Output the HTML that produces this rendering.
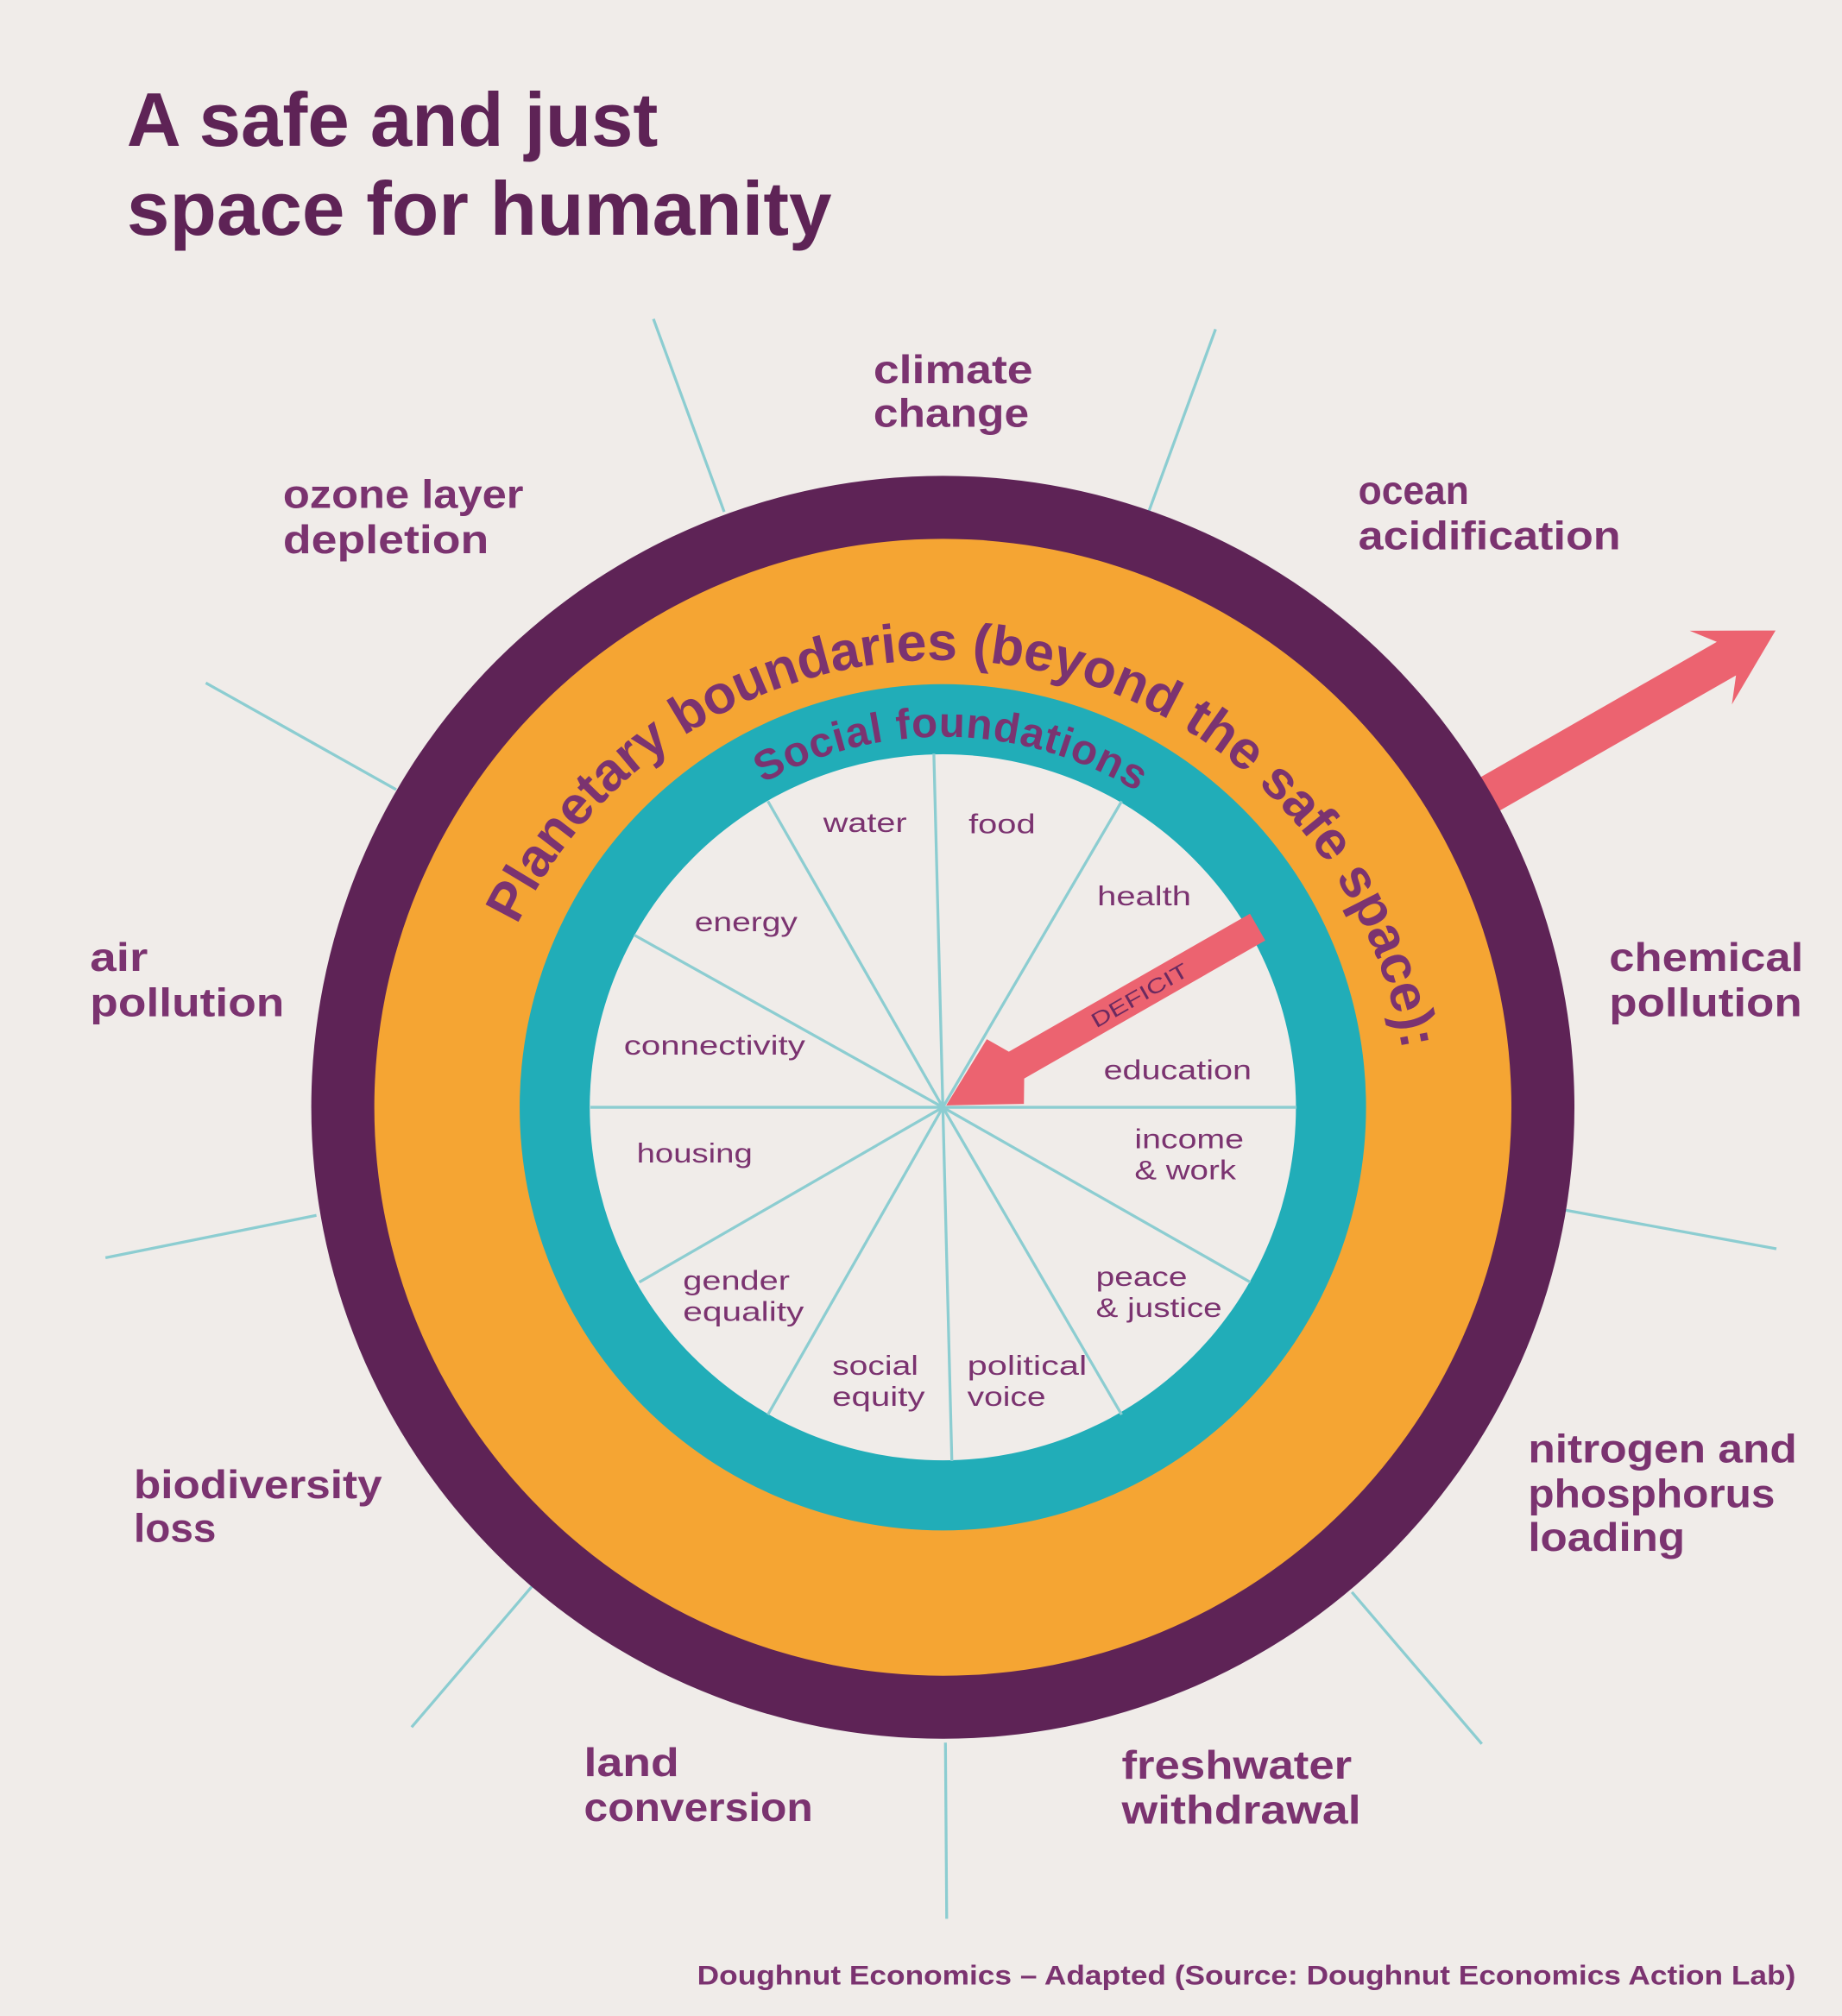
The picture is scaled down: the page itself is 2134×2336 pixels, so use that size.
<!DOCTYPE html>
<html><head><meta charset="utf-8"><style>
html,body{margin:0;padding:0;background:#f0ece9;}
svg{display:block;}
text{font-family:"Liberation Sans",sans-serif;}
</style></head><body>
<svg width="2134" height="2336" viewBox="0 0 2134 2336" xmlns="http://www.w3.org/2000/svg">
<rect width="2134" height="2336" fill="#f0ece9"/>
<g transform="scale(1.4902)">
<text x="98.6" y="113.4" font-size="59" font-weight="bold" fill="#5e2356" textLength="413" lengthAdjust="spacingAndGlyphs">A safe and just</text>
<text x="98.6" y="182.5" font-size="59" font-weight="bold" fill="#5e2356" textLength="548" lengthAdjust="spacingAndGlyphs">space for humanity</text>

<g stroke="#8ccdd1" stroke-width="2.2">
<line x1="508" y1="248" x2="563" y2="398"/>
<line x1="945" y1="256" x2="893" y2="398"/>
<line x1="160" y1="531" x2="308" y2="614"/>
<line x1="1217" y1="941" x2="1381" y2="971"/>
<line x1="82" y1="978" x2="246" y2="945"/>
<line x1="414" y1="1233" x2="320" y2="1343"/>
<line x1="1051" y1="1238" x2="1152" y2="1356"/>
<line x1="735" y1="1355" x2="736" y2="1492"/>
</g>

<g transform="translate(733,861) rotate(-29.8)">
<path d="M0,-15 L702,-15 L688,-33 L746,0 L688,33 L702,15 L0,15 Z" fill="#ec6370"/>
</g>

<circle cx="733" cy="861" r="491" fill="#5e2356"/>
<circle cx="733" cy="861" r="442" fill="#f5a533"/>
<circle cx="733" cy="861" r="329" fill="#21adb8"/>
<circle cx="733" cy="861" r="274.5" fill="#f0ece9"/>

<g stroke="#8ccdd1" stroke-width="2.2">
<line x1="733" y1="861" x2="726" y2="586"/>
<line x1="733" y1="861" x2="872" y2="623"/>
<line x1="733" y1="861" x2="1008" y2="861"/>
<line x1="733" y1="861" x2="972" y2="997"/>
<line x1="733" y1="861" x2="872" y2="1100"/>
<line x1="733" y1="861" x2="740" y2="1136"/>
<line x1="733" y1="861" x2="597" y2="1100"/>
<line x1="733" y1="861" x2="497" y2="997"/>
<line x1="733" y1="861" x2="459" y2="861"/>
<line x1="733" y1="861" x2="493" y2="727"/>
<line x1="733" y1="861" x2="597" y2="623"/>
</g>

<g transform="translate(733,861) rotate(-29.8)">
<path d="M282,-12 L66,-12 L56,-29 L3,0 L56,29 L66,12 L282,12 Z" fill="#ec6370"/>
<text x="176" y="6" font-size="16" fill="#6b2a60" text-anchor="middle" textLength="84" lengthAdjust="spacingAndGlyphs">DEFICIT</text>
</g>

<defs>
<path id="arcP" d="M372,810 A365,365 0 0 1 1094,912"/>
<path id="arcS" d="M445,854.5 A288,288 0 0 1 1021,867.5"/>
</defs>
<text font-size="42" font-weight="bold" fill="#7b3370"><textPath href="#arcP" startOffset="50%" text-anchor="middle" textLength="920" lengthAdjust="spacing">Planetary boundaries (beyond the safe space):</textPath></text>
<text font-size="33" font-weight="bold" fill="#7b3370"><textPath href="#arcS" startOffset="50%" text-anchor="middle" textLength="305" lengthAdjust="spacing">Social foundations</textPath></text>

<g font-size="31" font-weight="bold" fill="#7b3370">
<text x="679" y="298" textLength="124" lengthAdjust="spacingAndGlyphs">climate</text>
<text x="679" y="332" textLength="121" lengthAdjust="spacingAndGlyphs">change</text>
<text x="220" y="395" textLength="187" lengthAdjust="spacingAndGlyphs">ozone layer</text>
<text x="220" y="430" textLength="160" lengthAdjust="spacingAndGlyphs">depletion</text>
<text x="1056" y="392" textLength="86" lengthAdjust="spacingAndGlyphs">ocean</text>
<text x="1056" y="427" textLength="204" lengthAdjust="spacingAndGlyphs">acidification</text>
<text x="70" y="755" textLength="45" lengthAdjust="spacingAndGlyphs">air</text>
<text x="70" y="790" textLength="151" lengthAdjust="spacingAndGlyphs">pollution</text>
<text x="1251" y="755" textLength="151" lengthAdjust="spacingAndGlyphs">chemical</text>
<text x="1251" y="790" textLength="150" lengthAdjust="spacingAndGlyphs">pollution</text>
<text x="1188" y="1137" textLength="209" lengthAdjust="spacingAndGlyphs">nitrogen and</text>
<text x="1188" y="1172" textLength="192" lengthAdjust="spacingAndGlyphs">phosphorus</text>
<text x="1188" y="1206" textLength="122" lengthAdjust="spacingAndGlyphs">loading</text>
<text x="104" y="1165" textLength="193" lengthAdjust="spacingAndGlyphs">biodiversity</text>
<text x="104" y="1199" textLength="64" lengthAdjust="spacingAndGlyphs">loss</text>
<text x="454" y="1381" textLength="74" lengthAdjust="spacingAndGlyphs">land</text>
<text x="454" y="1416" textLength="178" lengthAdjust="spacingAndGlyphs">conversion</text>
<text x="872" y="1383" textLength="179" lengthAdjust="spacingAndGlyphs">freshwater</text>
<text x="872" y="1418" textLength="186" lengthAdjust="spacingAndGlyphs">withdrawal</text>
</g>

<g font-size="21" fill="#7b3370">
<text x="640" y="647" textLength="65" lengthAdjust="spacingAndGlyphs">water</text>
<text x="753" y="648" textLength="52" lengthAdjust="spacingAndGlyphs">food</text>
<text x="853" y="704" textLength="73" lengthAdjust="spacingAndGlyphs">health</text>
<text x="540" y="724" textLength="80" lengthAdjust="spacingAndGlyphs">energy</text>
<text x="485" y="820" textLength="141" lengthAdjust="spacingAndGlyphs">connectivity</text>
<text x="858" y="839" textLength="115" lengthAdjust="spacingAndGlyphs">education</text>
<text x="882" y="893" textLength="85" lengthAdjust="spacingAndGlyphs">income</text>
<text x="882" y="917" textLength="79" lengthAdjust="spacingAndGlyphs">&amp; work</text>
<text x="495" y="904" textLength="90" lengthAdjust="spacingAndGlyphs">housing</text>
<text x="531" y="1003" textLength="83" lengthAdjust="spacingAndGlyphs">gender</text>
<text x="531" y="1027" textLength="94" lengthAdjust="spacingAndGlyphs">equality</text>
<text x="852" y="1000" textLength="71" lengthAdjust="spacingAndGlyphs">peace</text>
<text x="852" y="1024" textLength="98" lengthAdjust="spacingAndGlyphs">&amp; justice</text>
<text x="647" y="1069" textLength="67" lengthAdjust="spacingAndGlyphs">social</text>
<text x="647" y="1093" textLength="72" lengthAdjust="spacingAndGlyphs">equity</text>
<text x="752" y="1069" textLength="93" lengthAdjust="spacingAndGlyphs">political</text>
<text x="752" y="1093" textLength="61" lengthAdjust="spacingAndGlyphs">voice</text>
</g>

<text x="542" y="1543" font-size="21" font-weight="bold" fill="#7b3370" textLength="854" lengthAdjust="spacingAndGlyphs">Doughnut Economics – Adapted (Source: Doughnut Economics Action Lab)</text>
</g>
</svg>
</body></html>
